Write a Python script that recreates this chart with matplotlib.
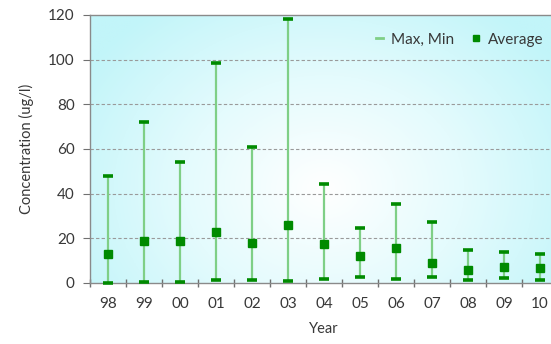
import numpy as np
import matplotlib.pyplot as plt
from matplotlib.lines import Line2D
from matplotlib.colors import LinearSegmentedColormap

plt.rcParams['font.family'] = ['Lato', 'DejaVu Sans']

years = ['98', '99', '00', '01', '02', '03', '04', '05', '06', '07', '08', '09', '10']
max_vals = [48, 72, 54, 98.5, 61, 118, 44.5, 24.5, 35.5, 27.5, 15, 14, 13]
min_vals = [0.2, 0.5, 0.5, 1.3, 1.3, 1.0, 1.8, 2.8, 1.8, 2.8, 1.3, 2.1, 1.3]
avg_vals = [13, 19, 19, 23, 18, 26, 17.5, 12, 15.5, 9, 6, 7, 6.5]

line_green = '#7fcf86'
dark_green = '#008a00'
text_col = '#383838'

fig = plt.figure(figsize=(5.51, 3.44), dpi=100)
ax = fig.add_axes([90 / 551, 61 / 344, 468 / 551, 268 / 344])

x = np.arange(len(years))
ax.set_xlim(-0.5, len(years) - 0.5)
ax.set_ylim(0, 120)

# radial white-to-cyan background fill
gx, gy = np.meshgrid(np.linspace(0, 1, 300), np.linspace(0, 1, 200))
r = np.sqrt(((gx - 0.5) / 0.6) ** 2 + ((gy - 0.35) / 0.85) ** 2)
r = np.clip(r, 0, 1)
bg = LinearSegmentedColormap.from_list('bg', ['#ffffff', '#e4fbfd', '#c2f5f9'])
ax.imshow(r, cmap=bg, extent=(-0.5, len(years) - 0.5, 0, 120), origin='lower',
          aspect='auto', zorder=0, interpolation='bilinear')

for yv in [20, 40, 60, 80, 100]:
    ax.axhline(yv, color='#9a9a9a', lw=0.8, ls=(0, (3, 2)), zorder=1)

ax.vlines(x, min_vals, max_vals, color=line_green, lw=1.6, zorder=2)
ax.plot(x, max_vals, ls='none', marker='_', ms=7, mew=2.6, color=dark_green, zorder=3)
ax.plot(x, min_vals, ls='none', marker='_', ms=7, mew=2.6, color=dark_green, zorder=3, clip_on=False)
ax.plot(x, avg_vals, ls='none', marker='s', ms=5.5, color=dark_green, zorder=4)

ax.set_yticks(range(0, 121, 20))
ax.set_xticks(x)
ax.set_xticklabels(years)
ax.set_xticks(np.arange(-0.5, len(years), 1), minor=True)
ax.tick_params(axis='x', which='major', length=0, pad=10, labelsize=11, labelcolor=text_col)
ax.tick_params(axis='x', which='minor', length=6, direction='inout', color='#707070', width=1)
ax.tick_params(axis='y', length=5, color='#707070', labelsize=11, labelcolor=text_col, pad=6)

for side in ['left', 'bottom', 'top']:
    ax.spines[side].set_color('#8a8a8a')
    ax.spines[side].set_linewidth(1)
ax.spines['right'].set_visible(False)

ax.set_xlabel('Year', fontsize=10.5, color=text_col, labelpad=8)
ax.set_ylabel('Concentration (ug/l)', fontsize=10.5, color=text_col, labelpad=10)

handles = [
    Line2D([], [], lw=2, color=line_green),
    Line2D([], [], ls='none', marker='s', ms=4, color=dark_green),
]
ax.legend(handles, ['Max, Min', 'Average'], loc='upper right', ncol=2, frameon=False,
          fontsize=11, labelcolor=text_col, handlelength=0.5, handletextpad=0.5,
          columnspacing=1.2, bbox_to_anchor=(0.998, 0.985))

fig.savefig('out.png', dpi=100)
